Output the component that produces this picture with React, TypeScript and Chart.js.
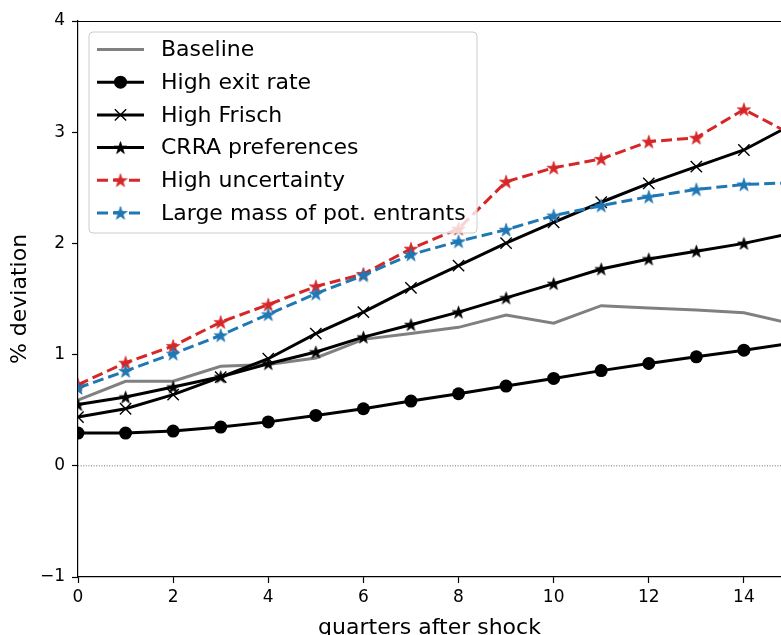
import React, { useEffect, useRef } from 'react';
import { Chart, registerables } from 'chart.js';

Chart.register(...registerables);

const quarters = [0, 1, 2, 3, 4, 5, 6, 7, 8, 9, 10, 11, 12, 13, 14, 15];
const baseline = [0.59, 0.76, 0.76, 0.895, 0.91, 0.97, 1.137, 1.19, 1.245, 1.355, 1.283, 1.44, 1.42, 1.40, 1.377, 1.278];
const highExitRate = [0.294, 0.294, 0.312, 0.348, 0.395, 0.453, 0.513, 0.582, 0.648, 0.717, 0.786, 0.856, 0.92, 0.98, 1.04, 1.103];
const highFrisch = [0.438, 0.513, 0.64, 0.798, 0.963, 1.188, 1.382, 1.60, 1.80, 2.003, 2.19, 2.37, 2.54, 2.69, 2.84, 3.066];
const crraPreferences = [0.55, 0.618, 0.708, 0.80, 0.918, 1.023, 1.157, 1.269, 1.382, 1.51, 1.638, 1.77, 1.86, 1.93, 2.0, 2.092];
const highUncertainty = [0.73, 0.927, 1.077, 1.292, 1.449, 1.613, 1.725, 1.952, 2.132, 2.555, 2.68, 2.76, 2.915, 2.95, 3.205, 2.98];
const largeMass = [0.70, 0.852, 1.008, 1.173, 1.362, 1.548, 1.712, 1.90, 2.018, 2.123, 2.25, 2.34, 2.42, 2.485, 2.53, 2.545];

const seriesLabels = [
  'Baseline',
  'High exit rate',
  'High Frisch',
  'CRRA preferences',
  'High uncertainty',
  'Large mass of pot. entrants',
];
const yTickValues = [-1, 0, 1, 2, 3, 4];
const xTickValues = [0, 2, 4, 6, 8, 10, 12, 14];

const FONT = '"DejaVu Sans", "Noto Sans", sans-serif';
const GRAY = '#808080';
const BLACK = '#000000';
const RED = '#d62728';
const BLUE = '#1f77b4';

function makeStar(color: string, outer: number): HTMLCanvasElement {
  const size = Math.ceil(outer * 2 + 2);
  const c = document.createElement('canvas');
  c.width = size;
  c.height = size;
  const ctx = c.getContext('2d')!;
  const cx = size / 2;
  const cy = size / 2 + 0.6;
  const inner = outer * 0.381966;
  ctx.beginPath();
  for (let i = 0; i < 10; i++) {
    const r = i % 2 === 0 ? outer : inner;
    const a = -Math.PI / 2 + (i * Math.PI) / 5;
    const px = cx + r * Math.cos(a);
    const py = cy + r * Math.sin(a);
    if (i === 0) ctx.moveTo(px, py);
    else ctx.lineTo(px, py);
  }
  ctx.closePath();
  ctx.fillStyle = color;
  ctx.fill();
  ctx.lineWidth = 0.8;
  ctx.strokeStyle = color;
  ctx.stroke();
  return c;
}

function drawMarker(ctx: CanvasRenderingContext2D, style: any, x: number, y: number, color: string, radius: number, bw: number) {
  if (!style) return;
  if (typeof style !== 'string') {
    ctx.drawImage(style, x - style.width / 2, y - style.height / 2);
    return;
  }
  ctx.save();
  ctx.setLineDash([]);
  if (style === 'circle') {
    ctx.beginPath();
    ctx.arc(x, y, radius, 0, Math.PI * 2);
    ctx.fillStyle = color;
    ctx.fill();
  } else if (style === 'crossRot') {
    const d = radius * Math.SQRT1_2;
    ctx.beginPath();
    ctx.moveTo(x - d, y - d);
    ctx.lineTo(x + d, y + d);
    ctx.moveTo(x - d, y + d);
    ctx.lineTo(x + d, y - d);
    ctx.strokeStyle = color;
    ctx.lineWidth = bw;
    ctx.stroke();
  }
  ctx.restore();
}

const decorPlugin = {
  id: 'mplDecor',
  beforeDatasetsDraw(chart: any) {
    const { ctx, chartArea } = chart;
    const y0 = chart.scales.y.getPixelForValue(0);
    ctx.save();
    ctx.beginPath();
    ctx.setLineDash([1, 1.6]);
    ctx.strokeStyle = '#333333';
    ctx.lineWidth = 0.7;
    ctx.moveTo(chartArea.left, y0);
    ctx.lineTo(chartArea.right, y0);
    ctx.stroke();
    ctx.restore();
  },
  afterDraw(chart: any) {
    const { ctx, chartArea } = chart;
    ctx.save();
    // top spine
    ctx.beginPath();
    ctx.strokeStyle = BLACK;
    ctx.lineWidth = 1.2;
    ctx.moveTo(chartArea.left, chartArea.top + 0.5);
    ctx.lineTo(chartArea.right, chartArea.top + 0.5);
    ctx.stroke();

    // legend box
    const bx = 89, by = 32, bw = 388, bh = 201, r = 4;
    ctx.beginPath();
    ctx.moveTo(bx + r, by);
    ctx.lineTo(bx + bw - r, by);
    ctx.quadraticCurveTo(bx + bw, by, bx + bw, by + r);
    ctx.lineTo(bx + bw, by + bh - r);
    ctx.quadraticCurveTo(bx + bw, by + bh, bx + bw - r, by + bh);
    ctx.lineTo(bx + r, by + bh);
    ctx.quadraticCurveTo(bx, by + bh, bx, by + bh - r);
    ctx.lineTo(bx, by + r);
    ctx.quadraticCurveTo(bx, by, bx + r, by);
    ctx.closePath();
    ctx.fillStyle = 'rgba(255,255,255,0.8)';
    ctx.fill();
    ctx.strokeStyle = '#cccccc';
    ctx.lineWidth = 1;
    ctx.stroke();

    const rowY0 = 49.5;
    const rowStep = 32.7;
    chart.data.datasets.forEach((ds: any, i: number) => {
      const y = rowY0 + i * rowStep;
      ctx.save();
      ctx.beginPath();
      ctx.strokeStyle = ds.borderColor;
      ctx.lineWidth = ds.borderWidth;
      ctx.setLineDash(ds.borderDash || []);
      ctx.moveTo(97, y);
      ctx.lineTo(144, y);
      ctx.stroke();
      ctx.restore();
      if (ds.pointRadius > 0) {
        drawMarker(ctx, ds.pointStyle, 120.5, y, ds.pointBackgroundColor, ds.pointRadius, ds.pointBorderWidth);
      }
      ctx.fillStyle = BLACK;
      ctx.font = `22px ${FONT}`;
      ctx.textAlign = 'left';
      ctx.textBaseline = 'middle';
      ctx.fillText(ds.label, 161, y + 1);
    });
    ctx.restore();
  },
};

function pts(arr: number[]) {
  return quarters.map((q, i) => ({ x: q, y: arr[i] }));
}

export default function App() {
  const ref = useRef<HTMLCanvasElement>(null);

  useEffect(() => {
    const blackStar = makeStar(BLACK, 6.5);
    const redStar = makeStar(RED, 7);
    const blueStar = makeStar(BLUE, 7);
    const dash = [11, 5];

    const chart = new Chart(ref.current!, {
      type: 'line',
      data: {
        datasets: [
          {
            label: seriesLabels[0], data: pts(baseline), borderColor: GRAY, backgroundColor: GRAY,
            borderWidth: 3, pointRadius: 0, pointStyle: false as any, order: 6,
          },
          {
            label: seriesLabels[1], data: pts(highExitRate), borderColor: BLACK, backgroundColor: BLACK,
            borderWidth: 3, pointRadius: 6.5, pointStyle: 'circle', pointBackgroundColor: BLACK,
            pointBorderColor: BLACK, pointBorderWidth: 0, order: 5,
          },
          {
            label: seriesLabels[2], data: pts(highFrisch), borderColor: BLACK, backgroundColor: BLACK,
            borderWidth: 3, pointRadius: 8, pointStyle: 'crossRot', pointBackgroundColor: BLACK,
            pointBorderColor: BLACK, pointBorderWidth: 1.4, order: 4,
          },
          {
            label: seriesLabels[3], data: pts(crraPreferences), borderColor: BLACK, backgroundColor: BLACK,
            borderWidth: 3, pointRadius: 7, pointStyle: blackStar as any, pointBackgroundColor: BLACK, order: 3,
          },
          {
            label: seriesLabels[4], data: pts(highUncertainty), borderColor: RED, backgroundColor: RED,
            borderWidth: 3, borderDash: dash, pointRadius: 7, pointStyle: redStar as any,
            pointBackgroundColor: RED, order: 2,
          },
          {
            label: seriesLabels[5], data: pts(largeMass), borderColor: BLUE, backgroundColor: BLUE,
            borderWidth: 3, borderDash: dash, pointRadius: 7, pointStyle: blueStar as any,
            pointBackgroundColor: BLUE, order: 1,
          },
        ],
      },
      options: {
        animation: false,
        responsive: true,
        maintainAspectRatio: false,
        layout: { autoPadding: false, padding: { top: 21, left: 0, right: 0, bottom: 0 } },
        elements: { line: { tension: 0 } },
        plugins: {
          legend: { display: false },
          tooltip: { enabled: false },
        },
        scales: {
          x: {
            type: 'linear',
            min: 0,
            max: 14.78,
            afterFit: (s: any) => { s.height = 58; s.paddingRight = 0; s.paddingLeft = 0; },
            afterBuildTicks: (s: any) => { s.ticks = xTickValues.map((v) => ({ value: v })); },
            ticks: {
              includeBounds: false,
              color: BLACK,
              padding: 4,
              maxRotation: 0,
              autoSkip: false,
              font: { family: FONT, size: 17 },
              callback: (v: any) => String(v),
            },
            grid: { drawOnChartArea: false, drawTicks: true, tickLength: 6, tickWidth: 1.2, tickColor: BLACK },
            border: { display: true, color: BLACK, width: 1.2 },
            title: {
              display: true,
              text: 'quarters after shock',
              color: BLACK,
              font: { family: FONT, size: 22 },
              padding: { top: 0, bottom: -6 },
            },
          },
          y: {
            type: 'linear',
            min: -1,
            max: 4,
            afterFit: (s: any) => { s.width = 78; s.paddingTop = 0; s.paddingBottom = 0; },
            afterBuildTicks: (s: any) => { s.ticks = yTickValues.map((v) => ({ value: v })); },
            ticks: {
              color: BLACK,
              padding: 7,
              font: { family: FONT, size: 17 },
              callback: (v: any) => String(v).replace('-', '\u2212'),
            },
            grid: { drawOnChartArea: false, drawTicks: true, tickLength: 6, tickWidth: 1.2, tickColor: BLACK },
            border: { display: true, color: BLACK, width: 1.2 },
            title: {
              display: true,
              text: '% deviation',
              color: BLACK,
              font: { family: FONT, size: 22 },
              padding: { top: 7, bottom: 0 },
            },
          },
        },
      },
      plugins: [decorPlugin],
    });
    return () => chart.destroy();
  }, []);

  return (
    <div style={{ position: 'absolute', left: 0, top: 0, width: 781, height: 635, background: '#ffffff' }}>
      <canvas ref={ref} />
    </div>
  );
}
